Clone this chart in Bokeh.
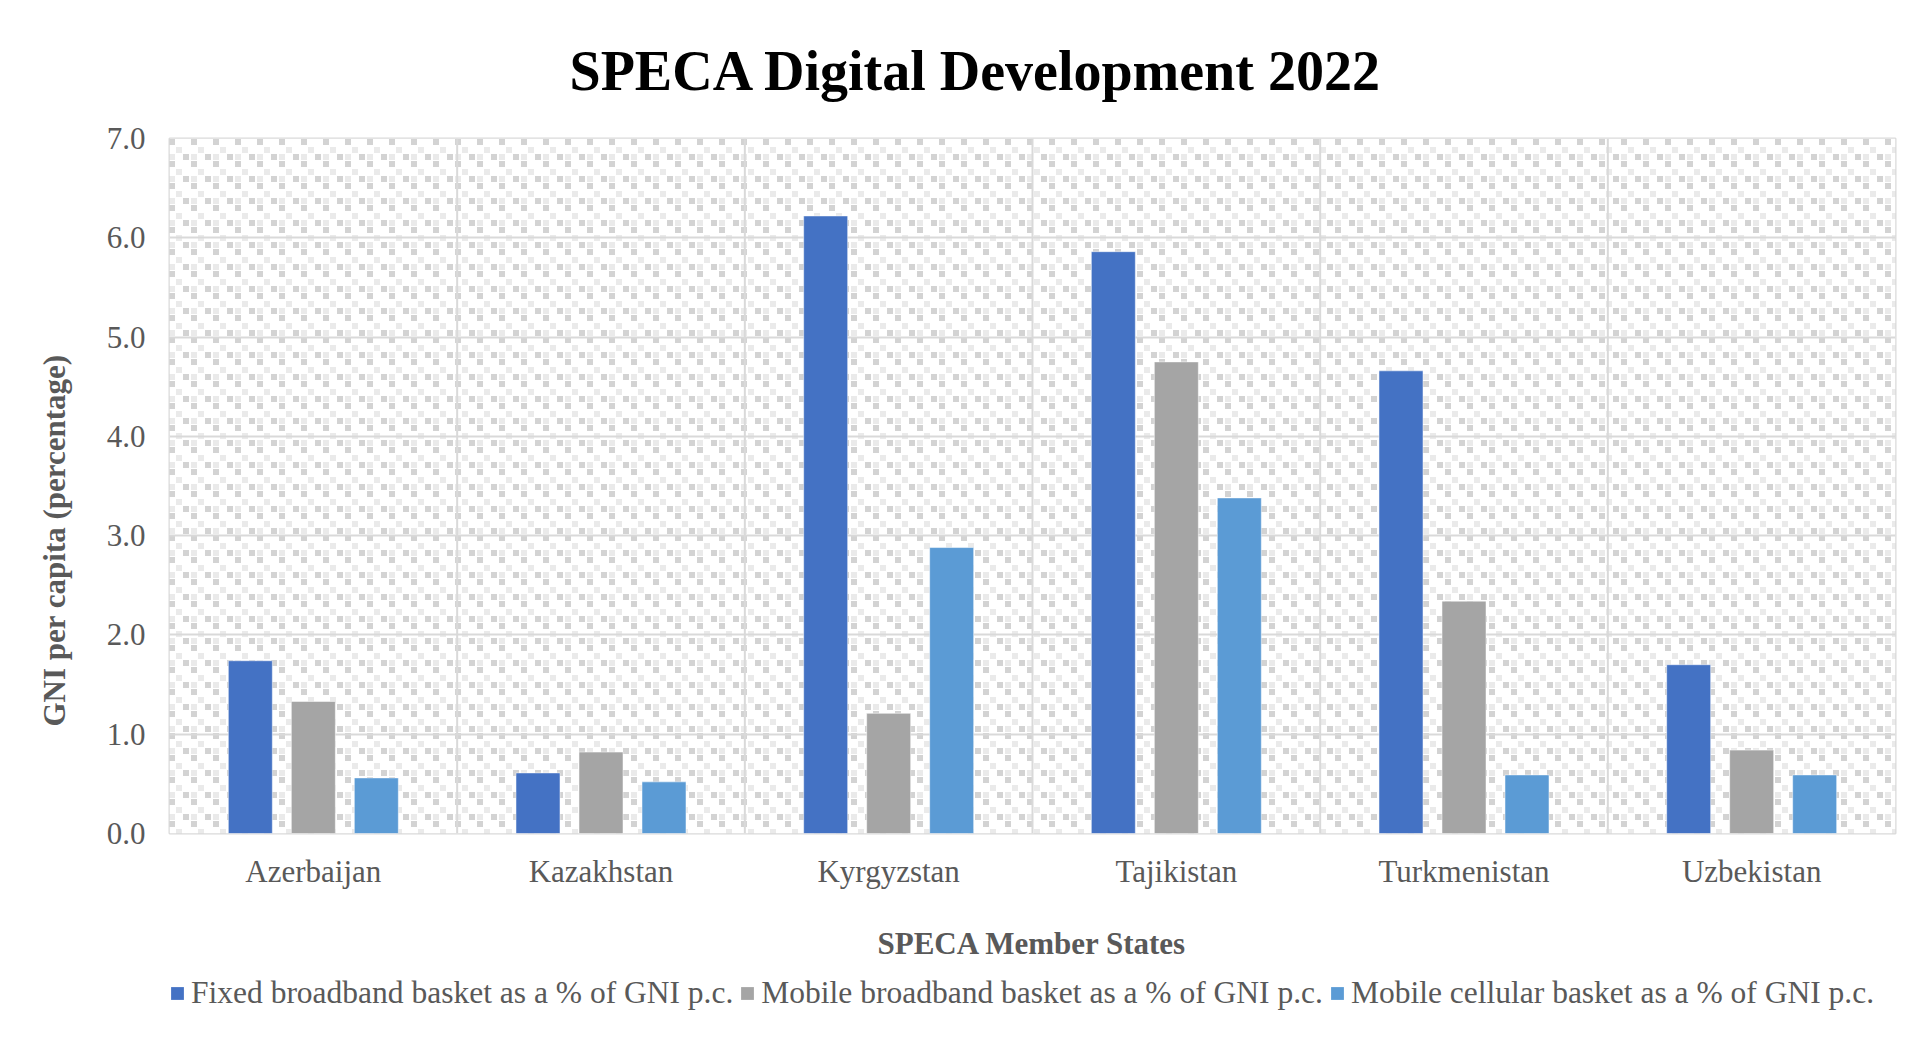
import base64, struct, zlib
from bokeh.plotting import figure
from bokeh.layouts import column
from bokeh.models import (FactorRange, Range1d, FixedTicker, Span, Legend, LegendItem, Title,
                          BoxAnnotation, ImageURLTexture, NumeralTickFormatter)
from bokeh.transform import dodge
from bokeh.embed import file_html
from bokeh.resources import INLINE

# ---------------- data ----------------
countries = ["Azerbaijan", "Kazakhstan", "Kyrgyzstan", "Tajikistan", "Turkmenistan", "Uzbekistan"]
fixed_bb = [1.74, 0.61, 6.22, 5.86, 4.66, 1.70]
mobile_bb = [1.33, 0.82, 1.21, 4.75, 2.34, 0.84]
mobile_cell = [0.56, 0.52, 2.88, 3.38, 0.59, 0.59]
series_names = ["Fixed broadband basket as a % of GNI p.c.",
                "Mobile broadband basket as a % of GNI p.c.",
                "Mobile cellular basket as a % of GNI p.c."]
y_ticks = [0, 1, 2, 3, 4, 5, 6, 7]
title_text = "SPECA Digital Development 2022"
x_title = "SPECA Member States"
y_title = "GNI per capita (percentage)"

colors = ["#4472C4", "#A5A5A5", "#5B9BD5"]
FONT = "Liberation Serif"
TXT = "#595959"

# ---------------- background texture (png tile) ----------------
def make_png(w, h, pix):
    raw = b""
    for y in range(h):
        raw += b"\x00" + bytes(pix[y])
    def chunk(t, d):
        c = struct.pack(">I", len(d)) + t + d
        return c + struct.pack(">I", zlib.crc32(t + d) & 0xffffffff)
    png = b"\x89PNG\r\n\x1a\n" + chunk(b"IHDR", struct.pack(">IIBBBBB", w, h, 8, 2, 0, 0, 0))
    png += chunk(b"IDAT", zlib.compress(raw)) + chunk(b"IEND", b"")
    return "data:image/png;base64," + base64.b64encode(png).decode()

edges = [0, 7, 15, 22]
W = H = edges[-1]
D, L, N = 0xD3, 0xEA, None
tile = [[N, D, L],
        [N, N, D],
        [L, N, N]]
pix = [[255] * (W * 3) for _ in range(H)]
for r in range(3):
    for c in range(3):
        g = tile[r][c]
        if g is None:
            continue
        for yy in range(edges[r], edges[r] + 6):
            for xx in range(edges[c], edges[c] + 6):
                pix[yy][xx * 3:xx * 3 + 3] = [g, g, g]
tex_url = make_png(W, H, pix)

# ---------------- main figure ----------------
p = figure(x_range=FactorRange(*countries, range_padding=0), y_range=Range1d(0, 7),
           frame_width=1726, frame_height=695, output_backend="svg", toolbar_location=None,
           min_border_left=169, min_border_right=10, min_border_top=138, min_border_bottom=140)
p.background_fill_color = "white"
p.border_fill_color = "white"
p.outline_line_color = "#D9D9D9"
p.outline_line_width = 2

bg = BoxAnnotation(fill_alpha=0, line_alpha=0, level="image",
                   hatch_pattern="bg", hatch_extra={"bg": ImageURLTexture(url=tex_url, repetition="repeat")},
                   hatch_alpha=1.0)
p.add_layout(bg)

p.xgrid.visible = False
p.ygrid.grid_line_color = "#D9D9D9"
p.ygrid.grid_line_width = 2
p.ygrid.ticker = FixedTicker(ticks=y_ticks)
for i in range(1, len(countries)):
    p.add_layout(Span(location=i, dimension="height", line_color="#D9D9D9", line_width=2, level="underlay"))

# title
p.title.text = title_text
p.title.text_font = FONT
p.title.text_font_size = "56px"
p.title.text_font_style = "bold"
p.title.text_color = "black"
p.title.align = "left"
p.title.offset = 400
p.title.standoff = 74

p.yaxis.ticker = FixedTicker(ticks=y_ticks)
p.yaxis.formatter = NumeralTickFormatter(format="0.0")
for ax in (p.xaxis[0], p.yaxis[0]):
    ax.axis_line_color = None
    ax.major_tick_line_color = None
    ax.minor_tick_line_color = None
    ax.major_tick_out = 0
    ax.major_tick_in = 0
    ax.major_label_text_font = FONT
    ax.major_label_text_font_size = "31px"
    ax.major_label_text_color = TXT
    ax.axis_label_text_font = FONT
    ax.axis_label_text_font_size = "31px"
    ax.axis_label_text_font_style = "bold"
    ax.axis_label_text_color = TXT
p.yaxis.major_label_standoff = 24
p.xaxis.major_label_standoff = 20
p.xaxis.axis_label = x_title
p.xaxis.axis_label_standoff = 34

# y-axis title as a vertical side title (lets it sit lower than centre, as in the original)
p.add_layout(Title(text=y_title, text_font=FONT, text_font_size="31px", text_font_style="bold",
                   text_color=TXT, align="left", offset=107, standoff=64), "left")

offsets = [-0.219, 0.0, 0.219]
data = {"country": countries, "s0": fixed_bb, "s1": mobile_bb, "s2": mobile_cell}
for k, (col, off) in enumerate(zip(colors, offsets)):
    p.vbar(x=dodge("country", off, range=p.x_range), top=f"s{k}", width=0.153, source=data,
           fill_color=col, line_color="white", line_width=1, line_alpha=0.5)

# ---------------- legend strip ----------------
pl = figure(x_range=p.x_range, y_range=p.y_range, width=1905, height=60,
            output_backend="svg", toolbar_location=None,
            x_axis_location=None, y_axis_location=None, min_border=0)
pl.grid.visible = False
pl.outline_line_color = None
pl.background_fill_color = "white"
pl.border_fill_color = "white"
items = []
for k, (name, col, off) in enumerate(zip(series_names, colors, offsets)):
    r = pl.vbar(x=dodge("country", off, range=p.x_range), top=f"s{k}", width=0.153, source=data,
                fill_color=col, line_color=None, visible=False)
    items.append(LegendItem(label=name, renderers=[r]))
legend = Legend(items=items, orientation="horizontal", location=(0, 22),
                label_text_font=FONT, label_text_font_size="31.5px", label_text_color=TXT,
                glyph_width=16, glyph_height=16, label_standoff=6, spacing=6,
                padding=0, margin=0, border_line_alpha=0, background_fill_alpha=0)
pl.add_layout(legend, "center")

open("out.html", "w").write(file_html(column(p, pl, spacing=0), INLINE))
